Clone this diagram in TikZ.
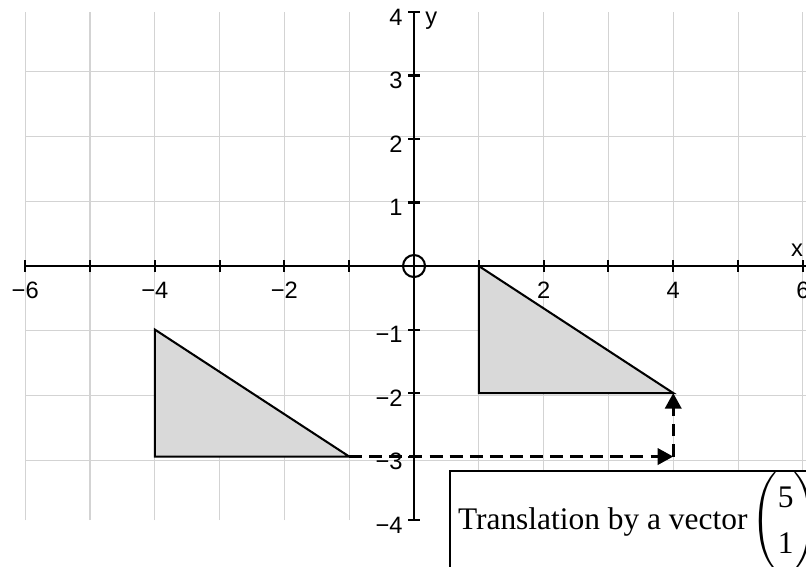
\documentclass[tikz,border=0pt]{standalone}
\usepackage{amsmath}
\usepackage{fontspec}
\setmainfont{Liberation Serif}
\setsansfont{Liberation Sans}
\usetikzlibrary{arrows.meta, positioning}
\definecolor{gridgray}{RGB}{211,211,211}
\definecolor{shapegray}{RGB}{217,217,217}
\tikzset{
  >={Triangle[length=0.24cm,width=0.25cm]},
  % Griglia e assi
  griglia/.style={gridgray,line width=0.45pt},
  asse/.style={line width=0.9pt},
  etichetta/.style={font=\sffamily\fontsize{10.4}{12}\selectfont,inner sep=0},
  % Figure
  triangolo/.style={line width=0.9pt,fill=shapegray,line join=miter},
  traslazione/.style={->,line width=1.3pt,dash pattern=on 0.2cm off 0.11cm},
  riquadro/.style={draw,line width=0.9pt,fill=white,inner xsep=0.123cm,inner ysep=0pt,
    minimum height=1.555cm,font=\fontsize{13.8}{16.2}\selectfont}
}
\begin{document}
\begin{tikzpicture}[x=1cm,y=0.98cm]
        \clip (-6.389,-4.724) rectangle (6.049,4.189);
        \draw[griglia] (-6,-4) grid (6.049,4);
        \draw[asse] (-6,0) -- (6.049,0);
        \draw[asse] (0,-4) -- (0,4);
        \foreach \x in {-6,...,-1,1,2,...,6}
          \draw[asse] (\x,-0.09) -- (\x,0.09);
        \foreach \y in {-4,...,-1,1,2,...,4}
          \draw[asse] (-0.09,\y) -- (0.09,\y);
        \foreach \x/\t in {-6/−6,-4/−4,-2/−2,2/2,4/4,6/6}
          \node[etichetta,anchor=north] (lx\x) at (\x,-0.24) {\t};
        \foreach \y/\t in {-4/−4,-3/−3,-2/−2,-1/−1,1/1,2/2,3/3,4/4}
          \node[etichetta,anchor=east] (ly\y) at (-0.17,\y-0.08) {\t};
        \node[etichetta] (asse x) at (5.91,0.25) {x};
        \node[etichetta,anchor=west] (asse y) at (0.17,3.87) {y};
        \node[draw,circle,asse,minimum size=0.34cm,inner sep=0] (origine) at (0,0) {};
        \coordinate (A1) at (-4,-1);
        \coordinate (A2) at (-4,-3);
        \coordinate (A3) at (-1,-3);
        \coordinate (B1) at (1,0);
        \coordinate (B2) at (1,-2);
        \coordinate (B3) at (4,-2);
        \coordinate (C) at (4,-3);
        \filldraw[triangolo] (A1) -- (A2) -- (A3) -- cycle;
        \filldraw[triangolo] (B1) -- (B2) -- (B3) -- cycle;
        \draw[traslazione] (A3) -- (C);
        \draw[traslazione] (C) -- (B3);
        \node[riquadro,anchor=west] (didascalia) at (0.54,-4.02)
          {Translation by a vector\hspace{-1.5pt} {\renewcommand{\arraystretch}{1.25}$\begin{pmatrix}\text{5}\\ \text{1}\end{pmatrix}$}\hspace{1cm}};
      \end{tikzpicture}
\end{document}
